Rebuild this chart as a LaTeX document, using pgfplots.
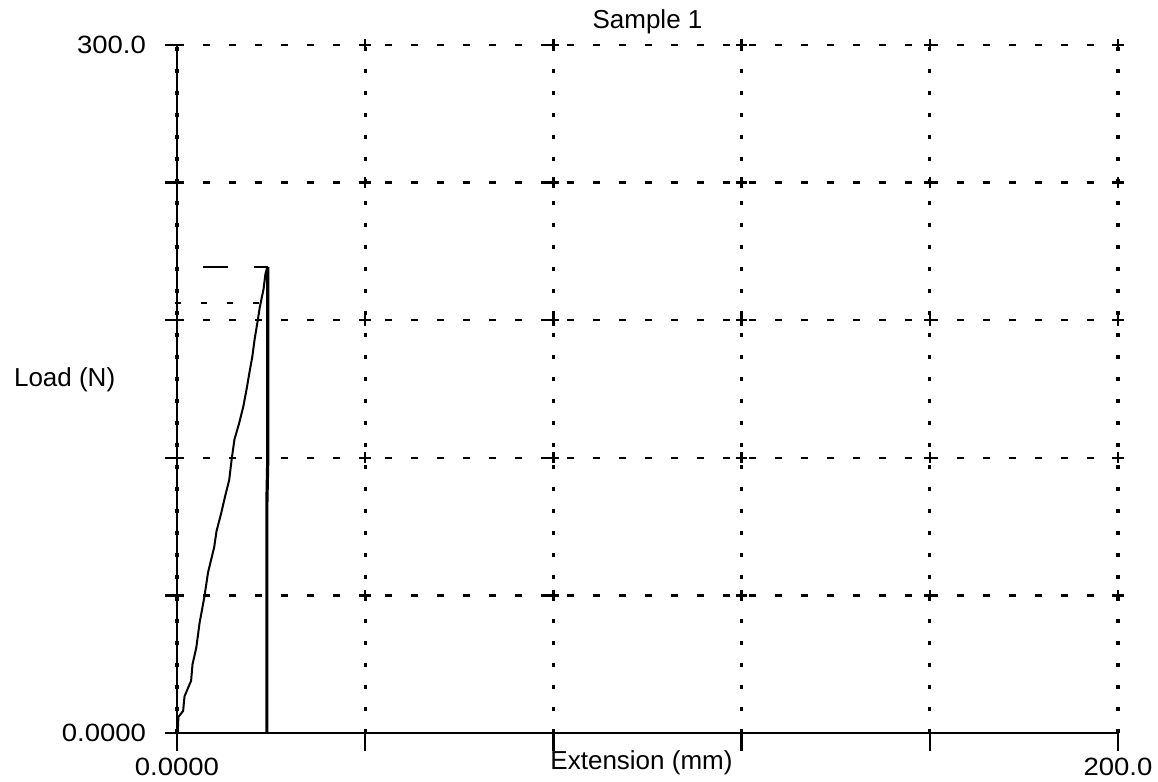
\documentclass[border=0pt]{standalone}
\usepackage{fontspec}
\setmainfont{Liberation Sans}
\newfontfamily\tickfont[FakeStretch=1.1]{Liberation Sans}
\usepackage{pgfplots}
\pgfplotsset{compat=1.18}
\begin{document}
\begin{tikzpicture}
\begin{axis}[
  scale only axis,
  width=470.5pt, height=344pt,
  xmin=0, xmax=200, ymin=0, ymax=300,
  axis x line=bottom, axis y line=left,
  axis line style={-, line width=1.3pt, black},
  xtick={0,40,80,120,160,200},
  ytick={0,60,120,180,240,300},
  xticklabels={0.0000,,,,,200.0},
  yticklabels={0.0000,,,,,300.0},
  tick align=outside,
  major tick length=6pt,
  xtick style={/pgfplots/major tick length=9pt, line width=1.2pt, black},
  ytick style={line width=1.2pt, black},
  ticklabel style={font=\tickfont\fontsize{12.5}{14}\selectfont},
  xticklabel style={anchor=north, yshift=-3pt},
  yticklabel style={anchor=east, xshift=-6pt},
  grid=major,
  major x grid style={black, line width=1.6pt, dash pattern=on 1.8pt off 9.2pt},
  major y grid style={black, line width=1.2pt, dash pattern=on 3.5pt off 9.5pt},
  title={Sample 1},
  every axis title/.style={at={(axis description cs:0.5,1)}, anchor=center, yshift=11.5pt, xshift=0pt, font=\fontsize{13}{15}\selectfont},
  xlabel={Extension (mm)},
  every axis x label/.style={at={(axis description cs:0.5,0)}, anchor=center, yshift=-15pt, xshift=-3pt, font=\fontsize{13}{15}\selectfont},
  ylabel={Load (N)},
  every axis y label/.style={at={(axis description cs:0,0.513)}, anchor=west, xshift=-85pt, font=\fontsize{13}{15}\selectfont},
  clip=false,
]
% grid crossing marks
\addplot[only marks, mark=+, mark size=2.8pt, line width=1.2pt, black] coordinates {
 (40,60) (80,60) (120,60) (160,60) (200,60)
 (40,120) (80,120) (120,120) (160,120) (200,120)
 (40,180) (80,180) (120,180) (160,180) (200,180)
 (40,240) (80,240) (120,240) (160,240) (200,240)
 (40,300) (80,300) (120,300) (160,300) (200,300)
};
% load curve
\addplot[black, line width=1pt] coordinates {
 (0,0) (0.2,2.2) (0.3,7) (1.3,9.6) (1.6,16) (3.0,22.8) (3.3,30) (4.1,37.2)
 (4.8,48) (5.8,59.1) (6.6,70) (7.9,81.0) (8.4,88) (9.4,95.9) (10.2,103)
 (11.1,110.4) (11.6,119) (12.2,127.9) (13.2,135) (14.1,142.4) (14.8,150)
 (15.4,157.2) (16.0,164) (16.5,171.7) (17.1,179.1) (17.6,185.7)
 (18.4,193.6) (18.8,200.2) (19.2,203.2)
};
% drop after break
\addplot[black, line width=1.6pt] coordinates {(19.3,203.2) (19.3,120) (19.1,100) (19.1,0)};
% peak marker line
\addplot[black, line width=1pt, dash pattern=on 12.5pt off 13pt] coordinates {(5.6,203.2) (19.3,203.2)};
% level marker line
\addplot[black, line width=1pt, dash pattern=on 3pt off 10pt] coordinates {(-0.5,187.5) (18,187.5)};
\end{axis}
\pgfresetboundingbox
\path[use as bounding box] (-88.5pt,-24.5pt) rectangle (490.5pt,366.5pt);
\end{tikzpicture}
\end{document}
